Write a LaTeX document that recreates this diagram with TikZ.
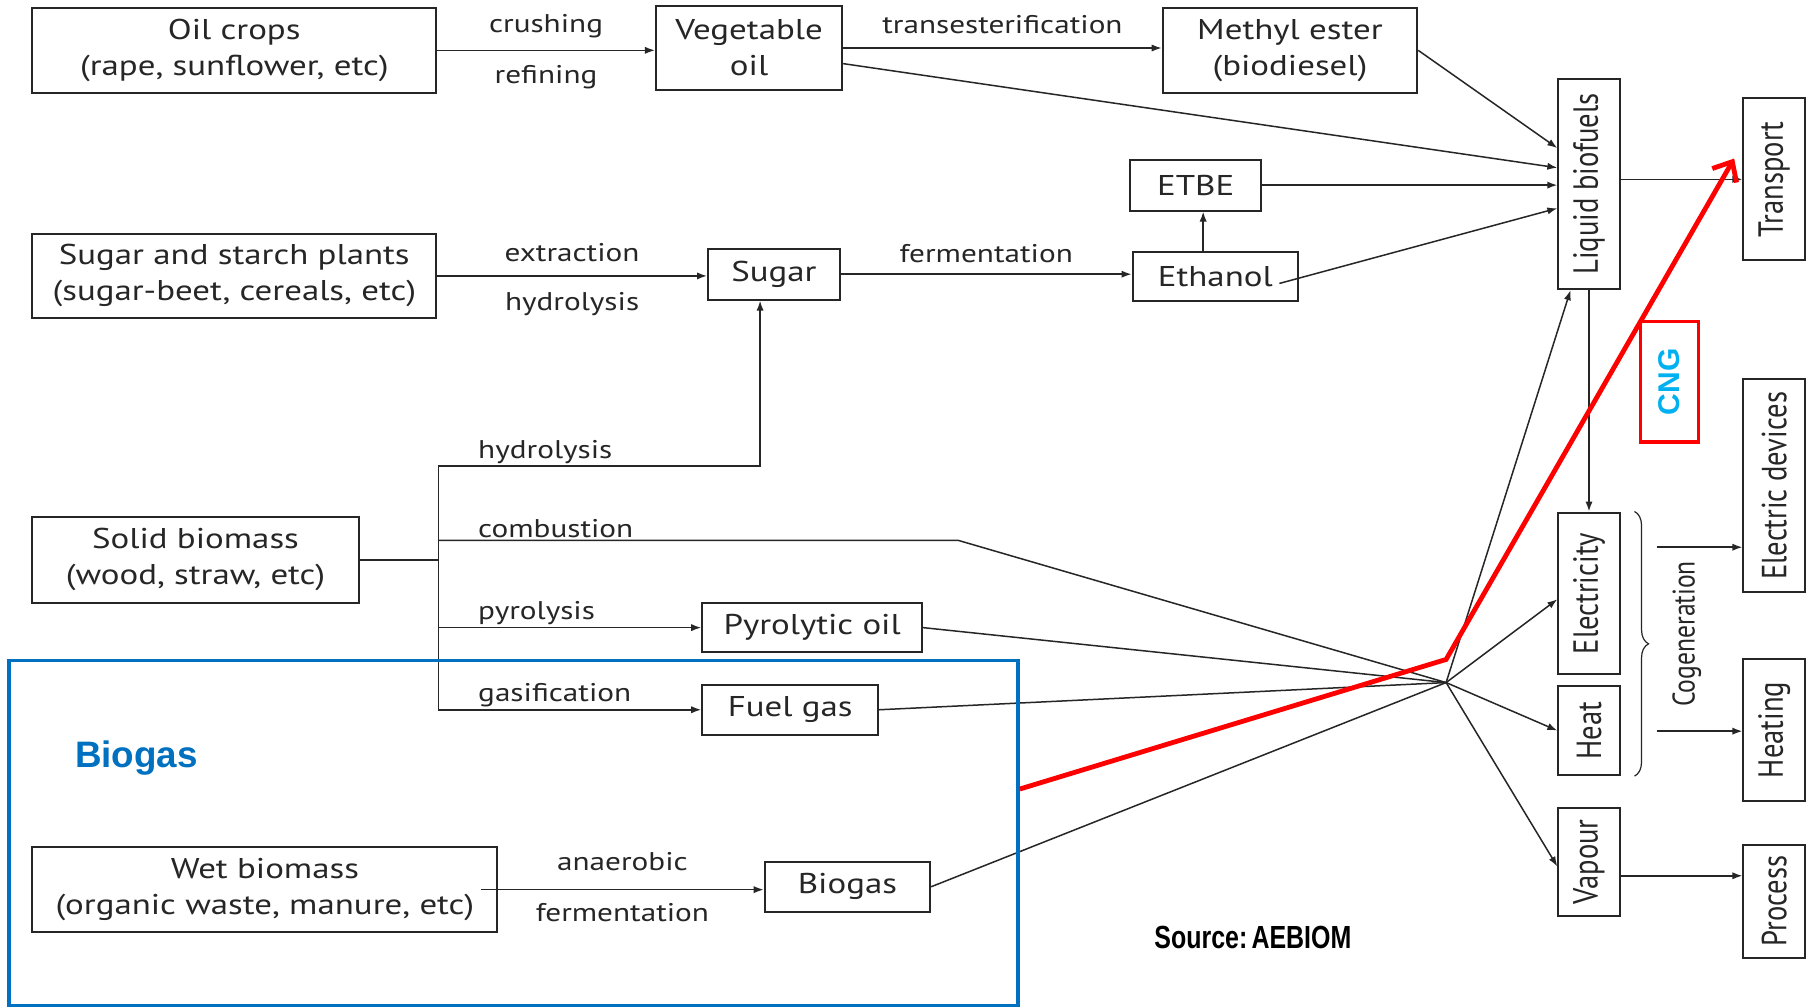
\documentclass[tikz,border=0pt]{standalone}
\usepackage{fontspec}
\usepackage{graphicx}
\setmainfont{PT Sans}
\newfontfamily\hfont{PT Sans}[FakeStretch=1.22]
\newfontfamily\plainf{PT Sans}
\newfontfamily\arialf{Liberation Sans}
\usetikzlibrary{arrows.meta,decorations.pathreplacing,calc}
\newcommand\pxu{0.5785pt}
\newcommand\vtxt[1]{\rotatebox{90}{\scalebox{1}[1.22]{\plainf #1}}}
\definecolor{blueC}{HTML}{0070C0}
\definecolor{cngC}{HTML}{00B0F0}
\definecolor{redC}{HTML}{FF0000}
\definecolor{inkC}{HTML}{262626}
\begin{document}
\begin{tikzpicture}[x=0.5785pt,y=-0.5785pt,
 bx/.style 2 args={draw=inkC, line width=1pt, inner sep=0pt, minimum width=#1*\pxu, minimum height=#2*\pxu, align=center, font=\hfont\fontsize{14.3}{18}\selectfont, text=inkC},
 ln/.style={draw=inkC, line width=0.75pt},
 arr/.style={ln, -{Latex[length=5pt,width=3.6pt]}},
 lbl/.style={font=\hfont\fontsize{12.8}{15}\selectfont, text=inkC, inner sep=1pt},
]
\useasboundingbox[fill=white] (0,0) rectangle (1568,871);

% boxes
\node[bx={349}{73}] (oil) at (202.5,43.5) {Oil crops\\(rape, sunflower, etc)};
\node[bx={161}{73}] (veg) at (647.5,41.5) {Vegetable\\oil};
\node[bx={220}{73}] (meth) at (1115,43.5) {Methyl ester\\(biodiesel)};
\node[bx={53}{182}] (liq) at (1373.5,159) {\vtxt{Liquid biofuels}};
\node[bx={113}{44}] (etbe) at (1033.5,160) {ETBE};
\node[bx={143}{42}] (eth) at (1050.5,239) {Ethanol};
\node[bx={114}{44}] (sugar) at (669,237) {Sugar};
\node[bx={349}{73}] (spl) at (202.5,238.5) {Sugar and starch plants\\(sugar-beet, cereals, etc)};
\node[bx={53}{140}] (trans) at (1533.5,155) {\vtxt{Transport}};
\node[bx={282}{74}] (solid) at (169,484) {Solid biomass\\(wood, straw, etc)};
\node[bx={190}{43}] (pyro) at (702,542.5) {Pyrolytic oil};
\node[bx={152}{43}] (fuel) at (683,613.5) {Fuel gas};
\node[bx={402}{74}] (wet) at (229,769) {Wet biomass\\(organic waste, manure, etc)};
\node[bx={143}{43}] (bio) at (732.5,766.5) {Biogas};
\node[bx={53}{140}] (elec) at (1373.5,513) {\vtxt{Electricity}};
\node[bx={53}{77}] (heat) at (1373.5,631.5) {\vtxt{Heat}};
\node[bx={53}{94}] (vap) at (1373.5,745) {\vtxt{Vapour}};
\node[bx={53}{184}] (edev) at (1533.5,420) {\vtxt{Electric devices}};
\node[bx={53}{122}] (heating) at (1533.5,631) {\vtxt{Heating}};
\node[bx={53}{98}] (proc) at (1533.5,779) {\vtxt{Process}};

% coordinates
\coordinate (jt) at (379,403);
\coordinate (jc) at (379,467);
\coordinate (cb) at (828,467);
\coordinate (hub) at (1250,590);
\coordinate (sgin) at ([xshift=-12*\pxu]sugar.south);
\coordinate (cg1) at (1432,473);
\coordinate (cg2) at (1432,632);

% top rows
\draw[arr] (oil.east) -- (oil.east -| veg.west)
  node[lbl, midway, yshift=21*\pxu]{crushing}
  node[lbl, midway, yshift=-23*\pxu]{refining};
\draw[arr] (veg.east) -- (veg.east -| meth.west)
  node[lbl, midway, yshift=20*\pxu]{transesterification};
\draw[arr] (meth.east) -- ([yshift=31*\pxu]liq.west);
\draw[arr] ([yshift=-13.5*\pxu]veg.east) -- ([yshift=14*\pxu]liq.west);
\draw[arr] (etbe.east) -- (etbe.east -| liq.west);
\draw[arr] ([xshift=-17*\pxu,yshift=-6*\pxu]eth.east) -- ([yshift=-21*\pxu]liq.west);
\draw[arr] ([xshift=-10.5*\pxu]eth.north) -- ([xshift=-10.5*\pxu]eth.north |- etbe.south);
\draw[arr] (spl.east) -- (spl.east -| sugar.west)
  node[lbl, midway, yshift=20*\pxu]{extraction}
  node[lbl, midway, yshift=-24*\pxu]{hydrolysis};
\draw[arr] (sugar.east) -- (sugar.east -| eth.west)
  node[lbl, midway, yshift=18*\pxu]{fermentation};
\draw[arr] ([yshift=4*\pxu]liq.east) -- ([yshift=4*\pxu]liq.east -| trans.west);
\draw[arr] (liq.south) -- (elec.north);

% solid biomass branches
\draw[ln] (solid.east) -- (solid.east -| jt);
\draw[ln] (jt) -- (jt |- fuel.west);
\draw[arr] (jt) -- node[lbl, pos=0, anchor=south west, xshift=32*\pxu]{hydrolysis} (sgin |- jt) -- (sgin);
\draw[ln] (jc) -- node[lbl, pos=0, anchor=south west, xshift=32*\pxu]{combustion} (cb) -- (hub);
\draw[arr] (jt |- pyro.west) -- node[lbl, pos=0, anchor=south west, xshift=32*\pxu]{pyrolysis} (pyro.west);
\draw[arr] (jt |- fuel.west) -- node[lbl, pos=0, anchor=south west, xshift=32*\pxu]{gasification} (fuel.west);

% wet biomass
\draw[arr] ([xshift=-15*\pxu]wet.east) -- (wet.east -| bio.west)
  node[lbl, midway, yshift=24*\pxu]{anaerobic}
  node[lbl, midway, yshift=-20*\pxu]{fermentation};

% hub
\draw[ln] (pyro.east) -- (hub);
\draw[ln] (fuel.east) -- (hub);
\draw[ln] (bio.east) -- (hub);
\draw[arr] (hub) -- ([xshift=-16*\pxu]liq.south);
\draw[arr] (hub) -- ([yshift=-5*\pxu]elec.west);
\draw[arr] (hub) -- (heat.west);
\draw[arr] (hub) -- ([yshift=-4*\pxu]vap.west);

% cogeneration
\draw[ln, line width=0.6pt, decorate, decoration={brace, amplitude=7pt}] ([xshift=12*\pxu]elec.north east) -- ([xshift=12*\pxu]heat.south east);
\node[inner sep=0pt, text=inkC] (cogen) at (1458,548) {\rotatebox{90}{\scalebox{1}[1.22]{\plainf\fontsize{12.8}{15}\selectfont Cogeneration}}};
\draw[arr] (cg1) -- (cg1 -| edev.west);
\draw[arr] (cg2) -- (cg2 -| heating.west);
\draw[arr] ([yshift=-12*\pxu]vap.east) -- ([yshift=-12*\pxu]vap.east -| proc.west);

% overlays
\node[draw=blueC, line width=1.8pt, minimum width=872*\pxu, minimum height=298*\pxu, inner sep=0pt] (bluebox) at (444,720) {};
\node[text=blueC, font=\arialf\bfseries\fontsize{18.4}{20}\selectfont] (biolbl) at (118,655) {Biogas};
\node[draw=redC, line width=1.8pt, minimum width=50*\pxu, minimum height=104*\pxu, inner sep=0pt, text=cngC, font=\arialf\bfseries\fontsize{15}{17}\selectfont] (cng) at (1443,330) {\rotatebox{90}{CNG}};
\coordinate (rk) at (1250,570);
\coordinate (rt) at (1499,137);
\draw[draw=redC, line width=2.4pt, line join=miter, -{Straight Barb[length=8pt,width=14pt]}] ([yshift=38*\pxu]bluebox.east) -- (rk) -- (rt);
\node[font=\arialf\bfseries\fontsize{16}{18}\selectfont, xscale=0.78] (src) at (1083,810) {Source:\,AEBIOM};
\end{tikzpicture}
\end{document}
